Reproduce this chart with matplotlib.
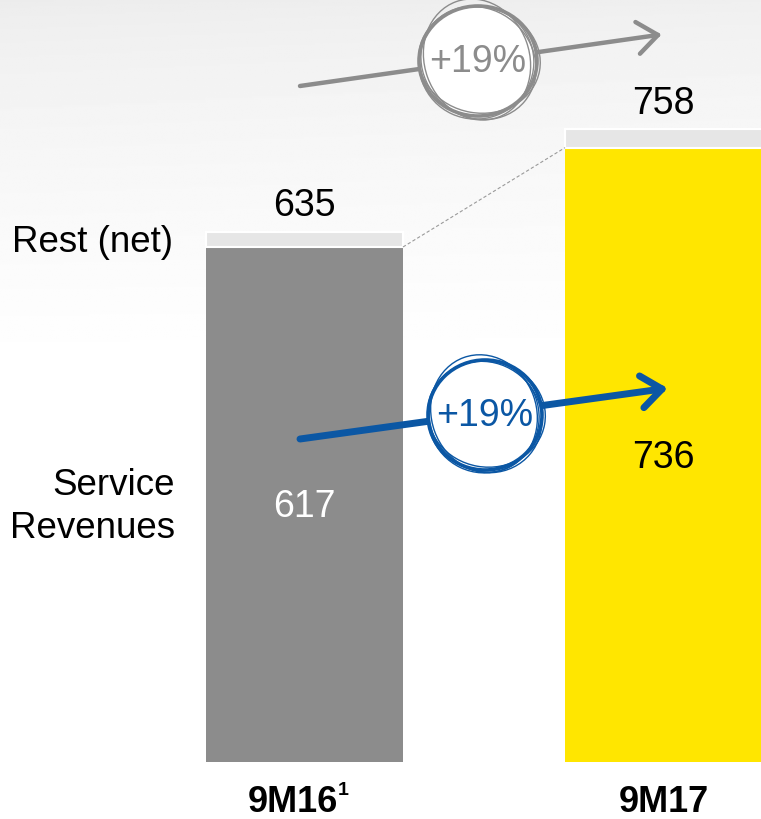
import numpy as np
import matplotlib.pyplot as plt
from matplotlib.patches import Ellipse

plt.rcParams['font.family'] = ['Liberation Sans', 'DejaVu Sans']

# data
periods = ["9M16", "9M17"]
footnotes = ["1", ""]
service = [617, 736]
rest = [18, 22]
totals = [635, 758]
growth = "+19%"

GRAY = "#8c8c8c"
YELLOW = "#ffe600"
REST = "#e6e6e6"
BLUE = "#0b57a4"

W, H = 761, 820
fig = plt.figure(figsize=(W / 100, H / 100), dpi=100)

# soft background gradient
bg = fig.add_axes([0, 0, 1, 1], zorder=0)
gy = np.linspace(0, 1, 400)[:, None]
gx = np.linspace(0, 1, 400)[None, :]
fade = np.clip(gy / 0.45, 0, 1) ** 0.7
shade = 0.925 + 0.075 * np.clip(fade + 0.15 * gx * (1 - fade), 0, 1)
bg.imshow(shade, cmap="gray", vmin=0, vmax=1, aspect="auto", extent=[0, 1, 1, 0])
bg.set_xlim(0, 1)
bg.set_ylim(1, 0)
bg.set_axis_off()

# bar axes
ax = fig.add_axes([0, 0, 1, 1], zorder=1)
ax.patch.set_alpha(0)
ppu = 359.0  # px per category step
x = np.arange(len(periods))
width = 197 / ppu
ax.set_xlim(-304.5 / ppu, (W - 304.5) / ppu)
pyu = 0.8347
ax.set_ylim(-(H - 763) / pyu, 763 / pyu)
ax.set_axis_off()

ax.bar(x, service, width, color=[GRAY, YELLOW], linewidth=0)
ax.bar(x, rest, width, bottom=service, color=REST, edgecolor="white", linewidth=1.5)
ax.plot([x[0] + width / 2, x[1] - width / 2], [service[0], service[1]],
        ls=(0, (3, 2)), color="#9a9a9a", lw=0.8)

for i in x:
    ax.text(i, totals[i] + 32, str(totals[i]), ha="center", va="center", fontsize=27, color="black")
    shift = -0.033 if footnotes[i] else 0
    t = ax.text(i + shift, -47, periods[i], ha="center", va="center", fontsize=26, fontweight="bold")
    if footnotes[i]:
        ax.annotate(footnotes[i], xy=(1, 1), xycoords=t, xytext=(0, 2), textcoords="offset points",
                    ha="left", va="top", fontsize=14, fontweight="bold")
ax.text(x[0], service[0] * 0.497, str(service[0]), ha="center", va="center", fontsize=27, color="white")
ax.text(x[1], service[1] * 0.497, str(service[1]), ha="center", va="center", fontsize=27, color="black")

ax.text(-0.365, totals[0] - 11, "Rest (net)", ha="right", va="center", fontsize=26.5)
ax.text(-0.36, service[0] * 0.497, "Service\nRevenues", ha="right", va="center",
        fontsize=26.5, linespacing=1.32)

# overlay for growth arrows (pixel coords)
ov = fig.add_axes([0, 0, 1, 1], zorder=3)
ov.patch.set_alpha(0)
ov.set_xlim(0, W)
ov.set_ylim(H, 0)
ov.set_axis_off()


def growth_arrow(p0, p1, centre, r, color, lw):
    (x0, y0), (x1, y1) = p0, p1
    ov.plot([x0, x1], [y0, y1], color=color, lw=lw, solid_capstyle="round", zorder=1)
    ang = np.arctan2(y1 - y0, x1 - x0)
    L = 26
    for s in (1, -1):
        a = ang + np.pi + s * np.radians(38)
        ov.plot([x1, x1 + L * np.cos(a)], [y1, y1 + L * np.sin(a)], color=color, lw=lw,
                solid_capstyle="round", zorder=1)
    cx, cy = centre
    ov.add_patch(Ellipse((cx, cy), 2 * r[0], 2 * r[1], facecolor="white", edgecolor=color,
                         lw=2.6, zorder=2))
    for dx, dy, dr, angle in [(1.5, -1, 2, 10), (-1.5, 1.5, -1.5, -20), (0.5, 2, 1, 40),
                              (-1, -1.5, 2.5, 70)]:
        ov.add_patch(Ellipse((cx + dx, cy + dy), 2 * (r[0] + dr), 2 * (r[1] - dr), angle=angle,
                             facecolor="none", edgecolor=color, lw=1.0, zorder=3))
    ov.text(cx, cy, growth, ha="center", va="center", fontsize=27, color=color, zorder=4)


growth_arrow((300, 87), (658, 36), (478, 62), (59, 55), GRAY, 3.2)
growth_arrow((300, 440), (662, 390), (485, 416), (57, 55), BLUE, 5)

fig.savefig("out.png", dpi=100)
